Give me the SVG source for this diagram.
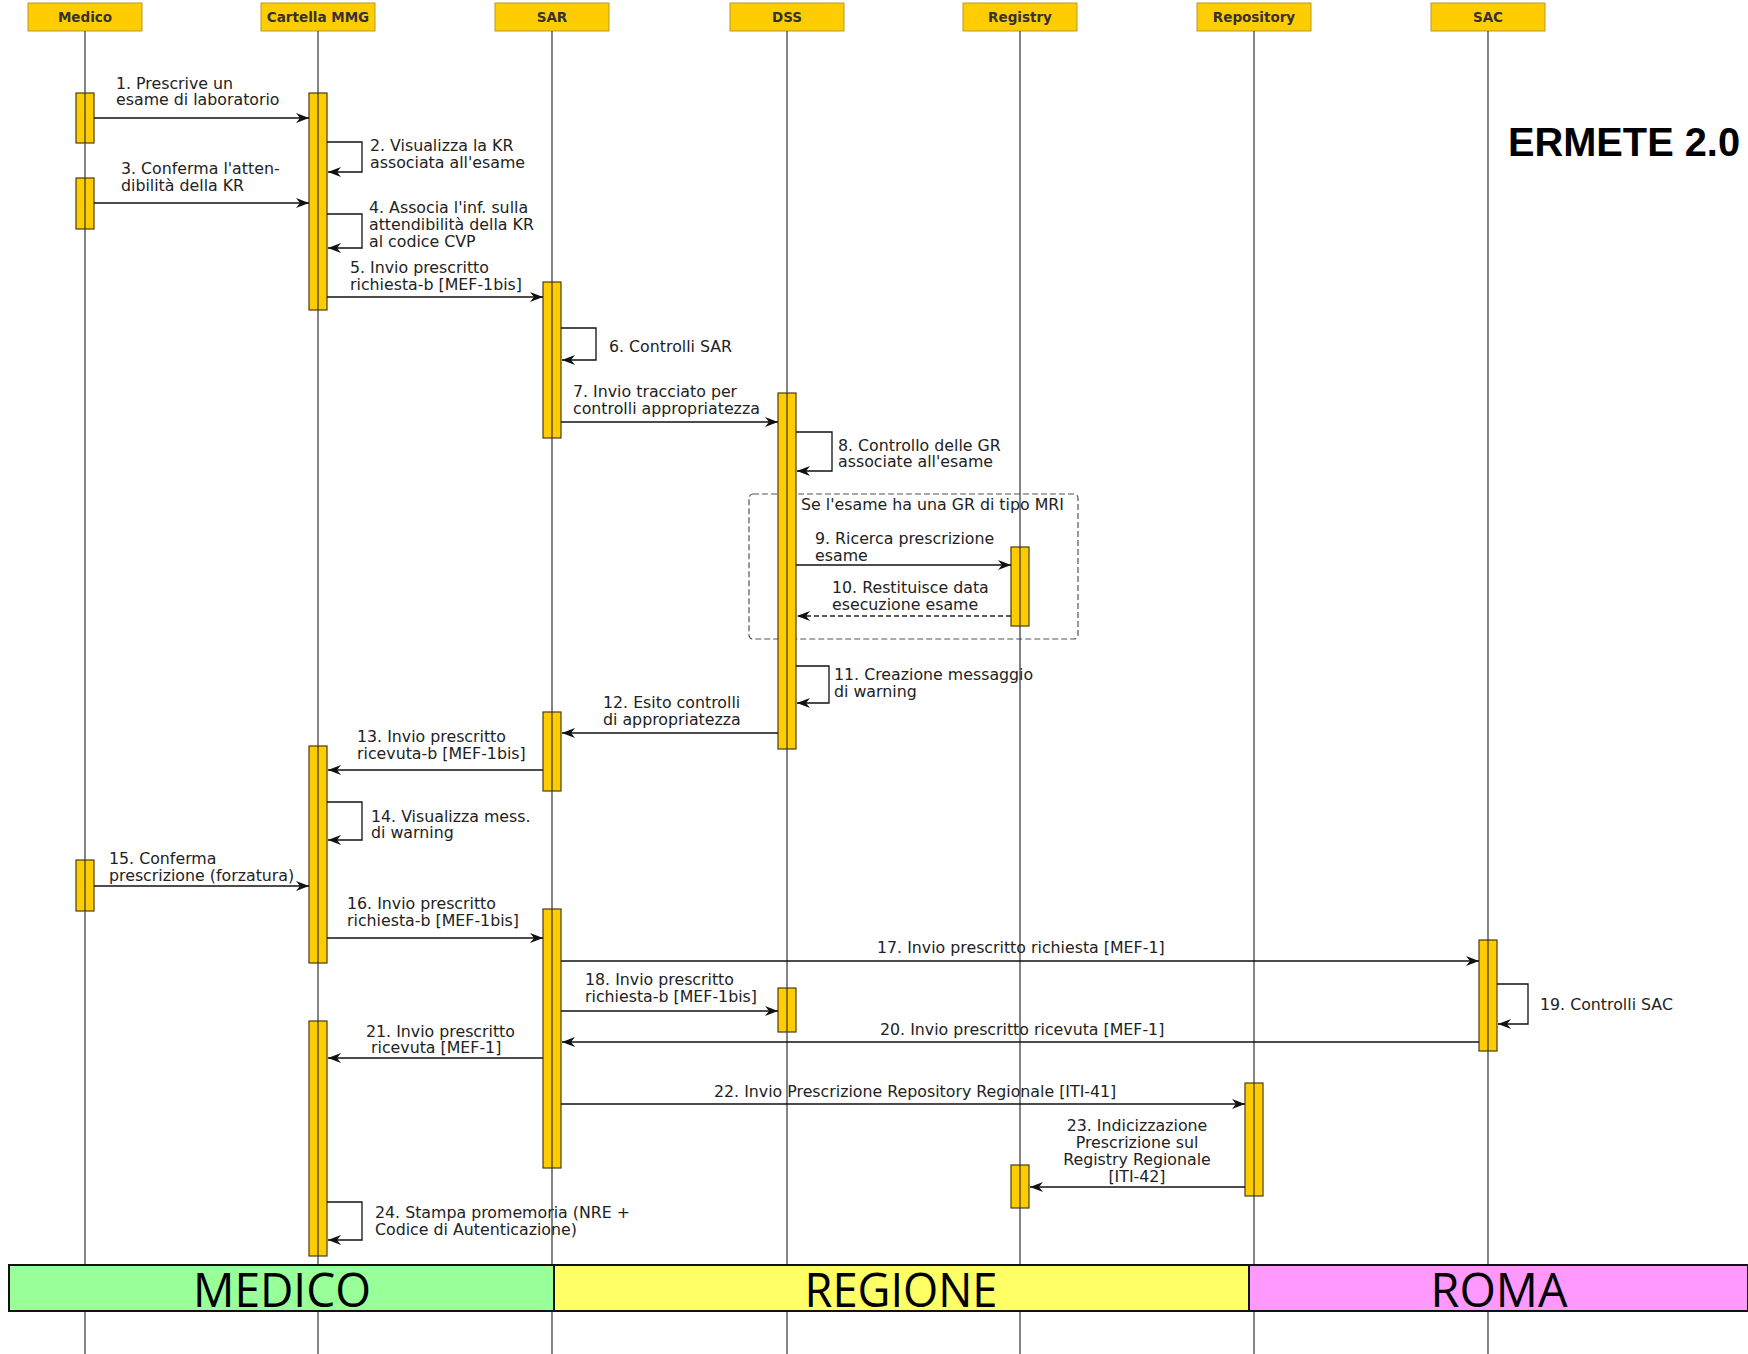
<svg xmlns="http://www.w3.org/2000/svg" width="1748" height="1354" viewBox="0 0 1748 1354">
<style>
.hdr{fill:#FFCC00;stroke:#b89a2a;stroke-width:1}
.htx{font-family:"DejaVu Sans",sans-serif;font-weight:bold;font-size:13.5px;fill:#333;text-anchor:middle}
.life{stroke:#333;stroke-width:1.2}
.act{fill:#FFCC00;stroke:#4a3c10;stroke-width:1.2}
.msg{stroke:#111;stroke-width:1.3;fill:none;marker-end:url(#ah)}
.ret{stroke:#222;stroke-width:1.3;fill:none;stroke-dasharray:5 3;marker-end:url(#ah)}
.lbl{font-family:"DejaVu Sans",sans-serif;font-size:15.8px;fill:#222}
.band{font-family:"Open Sans","Liberation Sans",sans-serif;font-size:48px;fill:#000;text-anchor:middle}
</style>
<defs>
<marker id="ah" markerUnits="userSpaceOnUse" markerWidth="15" markerHeight="11" refX="13" refY="5" orient="auto">
<path d="M0,0 L13,5 L0,10 L4,5 z" fill="#111"/>
</marker>
</defs>
<rect width="1748" height="1354" fill="#fff"/>

<g id="frame-mri">
<rect x="749" y="494" width="329" height="145" rx="4" fill="none" stroke="#555" stroke-width="1.2" stroke-dasharray="6 3"/>
<text class="lbl" x="801" y="510">Se l'esame ha una GR di tipo MRI</text>
</g>

<g id="node-medico">
<rect class="hdr" x="28" y="3" width="114" height="28"/>
<text class="htx" x="85" y="22">Medico</text>
<rect class="act" x="76" y="93" width="18" height="50"/>
<rect class="act" x="76" y="178" width="18" height="51"/>
<rect class="act" x="76" y="860" width="18" height="51"/>
<line class="life" x1="85" y1="31" x2="85" y2="1354"/>
</g>
<g id="node-cartella">
<rect class="hdr" x="261" y="3" width="114" height="28"/>
<text class="htx" x="318" y="22">Cartella MMG</text>
<rect class="act" x="309" y="93" width="18" height="217"/>
<rect class="act" x="309" y="746" width="18" height="217"/>
<rect class="act" x="309" y="1021" width="18" height="235"/>
<line class="life" x1="318" y1="31" x2="318" y2="1354"/>
</g>
<g id="node-sar">
<rect class="hdr" x="495" y="3" width="114" height="28"/>
<text class="htx" x="552" y="22">SAR</text>
<rect class="act" x="543" y="282" width="18" height="156"/>
<rect class="act" x="543" y="712" width="18" height="79"/>
<rect class="act" x="543" y="909" width="18" height="259"/>
<line class="life" x1="552" y1="31" x2="552" y2="1354"/>
</g>
<g id="node-dss">
<rect class="hdr" x="730" y="3" width="114" height="28"/>
<text class="htx" x="787" y="22">DSS</text>
<rect class="act" x="778" y="393" width="18" height="356"/>
<rect class="act" x="778" y="988" width="18" height="44"/>
<line class="life" x1="787" y1="31" x2="787" y2="1354"/>
</g>
<g id="node-registry">
<rect class="hdr" x="963" y="3" width="114" height="28"/>
<text class="htx" x="1020" y="22">Registry</text>
<rect class="act" x="1011" y="547" width="18" height="79"/>
<rect class="act" x="1011" y="1165" width="18" height="43"/>
<line class="life" x1="1020" y1="31" x2="1020" y2="1354"/>
</g>
<g id="node-repository">
<rect class="hdr" x="1197" y="3" width="114" height="28"/>
<text class="htx" x="1254" y="22">Repository</text>
<rect class="act" x="1245" y="1083" width="18" height="113"/>
<line class="life" x1="1254" y1="31" x2="1254" y2="1354"/>
</g>
<g id="node-sac">
<rect class="hdr" x="1431" y="3" width="114" height="28"/>
<text class="htx" x="1488" y="22">SAC</text>
<rect class="act" x="1479" y="940" width="18" height="111"/>
<line class="life" x1="1488" y1="31" x2="1488" y2="1354"/>
</g>

<g id="connectors">
<line class="msg" x1="94" y1="118" x2="309" y2="118"/>
<path class="msg" d="M327,142 H362 V172 H328"/>
<line class="msg" x1="94" y1="203" x2="309" y2="203"/>
<path class="msg" d="M327,214 H362 V248 H328"/>
<line class="msg" x1="327" y1="297" x2="543" y2="297"/>
<path class="msg" d="M561,328 H596 V360 H562"/>
<line class="msg" x1="561" y1="422" x2="778" y2="422"/>
<path class="msg" d="M796,432 H832 V471 H797"/>
<line class="msg" x1="796" y1="565" x2="1011" y2="565"/>
<line class="ret" x1="1011" y1="616" x2="797" y2="616"/>
<path class="msg" d="M796,666 H829 V703 H797"/>
<line class="msg" x1="778" y1="733" x2="562" y2="733"/>
<line class="msg" x1="543" y1="770" x2="328" y2="770"/>
<path class="msg" d="M327,802 H362 V840 H328"/>
<line class="msg" x1="94" y1="886" x2="309" y2="886"/>
<line class="msg" x1="327" y1="938" x2="543" y2="938"/>
<line class="msg" x1="561" y1="961" x2="1479" y2="961"/>
<line class="msg" x1="561" y1="1011" x2="778" y2="1011"/>
<path class="msg" d="M1497,984 H1528 V1024 H1498"/>
<line class="msg" x1="1479" y1="1042" x2="562" y2="1042"/>
<line class="msg" x1="543" y1="1058" x2="328" y2="1058"/>
<line class="msg" x1="561" y1="1104" x2="1245" y2="1104"/>
<line class="msg" x1="1245" y1="1187" x2="1030" y2="1187"/>
<path class="msg" d="M327,1202 H362 V1240 H328"/>
</g>

<g id="labels">
<text class="lbl" x="116" y="89">1. Prescrive un</text>
<text class="lbl" x="116" y="105">esame di laboratorio</text>
<text class="lbl" x="370" y="151">2. Visualizza la KR</text>
<text class="lbl" x="370" y="168">associata all'esame</text>
<text class="lbl" x="121" y="174">3. Conferma l'atten-</text>
<text class="lbl" x="121" y="191">dibilità della KR</text>
<text class="lbl" x="369" y="213">4. Associa l'inf. sulla</text>
<text class="lbl" x="369" y="230">attendibilità della KR</text>
<text class="lbl" x="369" y="247">al codice CVP</text>
<text class="lbl" x="350" y="273">5. Invio prescritto</text>
<text class="lbl" x="350" y="290">richiesta-b [MEF-1bis]</text>
<text class="lbl" x="609" y="352">6. Controlli SAR</text>
<text class="lbl" x="573" y="397">7. Invio tracciato per</text>
<text class="lbl" x="573" y="414">controlli appropriatezza</text>
<text class="lbl" x="838" y="451">8. Controllo delle GR</text>
<text class="lbl" x="838" y="467">associate all'esame</text>
<text class="lbl" x="815" y="544">9. Ricerca prescrizione</text>
<text class="lbl" x="815" y="561">esame</text>
<text class="lbl" x="832" y="593">10. Restituisce data</text>
<text class="lbl" x="832" y="610">esecuzione esame</text>
<text class="lbl" x="834" y="680">11. Creazione messaggio</text>
<text class="lbl" x="834" y="697">di warning</text>
<text class="lbl" x="603" y="708">12. Esito controlli</text>
<text class="lbl" x="603" y="725">di appropriatezza</text>
<text class="lbl" x="357" y="742">13. Invio prescritto</text>
<text class="lbl" x="357" y="759">ricevuta-b [MEF-1bis]</text>
<text class="lbl" x="371" y="822">14. Visualizza mess.</text>
<text class="lbl" x="371" y="838">di warning</text>
<text class="lbl" x="109" y="864">15. Conferma</text>
<text class="lbl" x="109" y="881">prescrizione (forzatura)</text>
<text class="lbl" x="347" y="909">16. Invio prescritto</text>
<text class="lbl" x="347" y="926">richiesta-b [MEF-1bis]</text>
<text class="lbl" x="877" y="953">17. Invio prescritto richiesta [MEF-1]</text>
<text class="lbl" x="585" y="985">18. Invio prescritto</text>
<text class="lbl" x="585" y="1002">richiesta-b [MEF-1bis]</text>
<text class="lbl" x="1540" y="1010">19. Controlli SAC</text>
<text class="lbl" x="880" y="1035">20. Invio prescritto ricevuta [MEF-1]</text>
<text class="lbl" x="366" y="1037">21. Invio prescritto</text>
<text class="lbl" x="371" y="1053">ricevuta [MEF-1]</text>
<text class="lbl" x="714" y="1097">22. Invio Prescrizione Repository Regionale [ITI-41]</text>
<text class="lbl" x="1137" y="1131" text-anchor="middle">23. Indicizzazione</text>
<text class="lbl" x="1137" y="1148" text-anchor="middle">Prescrizione sul</text>
<text class="lbl" x="1137" y="1165" text-anchor="middle">Registry Regionale</text>
<text class="lbl" x="1137" y="1182" text-anchor="middle">[ITI-42]</text>
<text class="lbl" x="375" y="1218">24. Stampa promemoria (NRE +</text>
<text class="lbl" x="375" y="1235">Codice di Autenticazione)</text>
</g>

<text x="1508" y="156" font-family="'Liberation Sans',sans-serif" font-weight="bold" font-size="41" textLength="232" lengthAdjust="spacingAndGlyphs" fill="#000">ERMETE 2.0</text>

<g id="band">
<rect x="9" y="1265" width="545" height="46" fill="#99FF99" stroke="#111" stroke-width="2"/>
<rect x="554" y="1265" width="695" height="46" fill="#FFFF66" stroke="#111" stroke-width="2"/>
<rect x="1249" y="1265" width="499" height="46" fill="#FF99FF" stroke="#111" stroke-width="2"/>
<text class="band" x="282" y="1307" textLength="178" lengthAdjust="spacingAndGlyphs">MEDICO</text>
<text class="band" x="901" y="1307" textLength="193" lengthAdjust="spacingAndGlyphs">REGIONE</text>
<text class="band" x="1499" y="1307" textLength="137" lengthAdjust="spacingAndGlyphs">ROMA</text>
</g>
</svg>
